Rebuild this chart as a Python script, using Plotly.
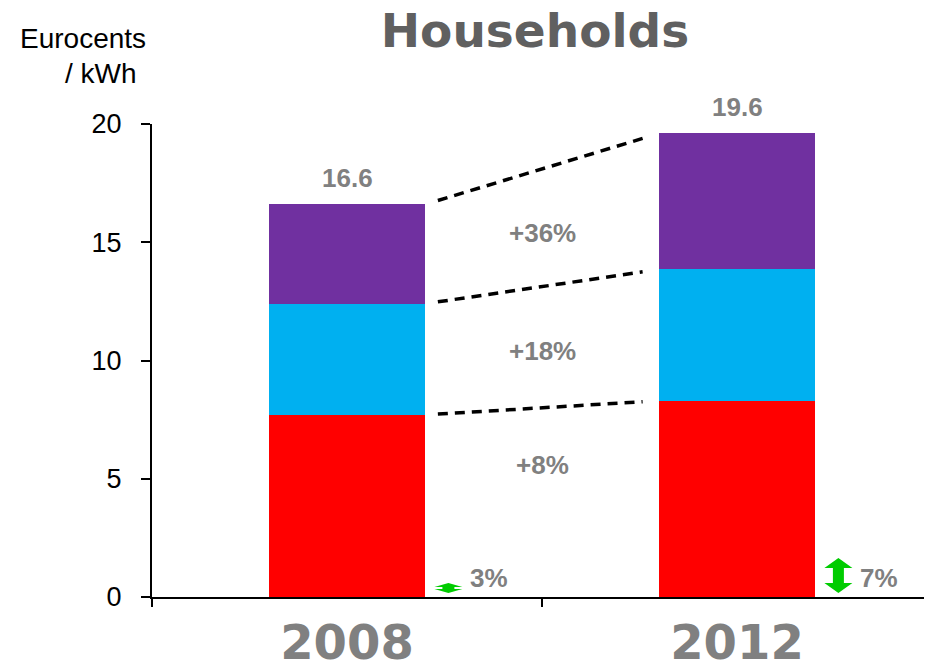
import plotly.graph_objects as go

# ---------------- data ----------------
years = ["2008", "2012"]
energy = [7.7, 8.3]
network = [4.7, 5.55]
taxes = [4.2, 5.75]
change_labels = ["+8%", "+18%", "+36%"]
arrow_labels = ["3%", "7%"]

colors = ["#FF0000", "#00B0F0", "#7030A0"]
series = [energy, network, taxes]

totals = [round(a + b + c, 1) for a, b, c in zip(energy, network, taxes)]

# page body has an 8px default margin -> compensate
OFF = 8
W, H = 932 - OFF, 664 - OFF

fig = go.Figure()
for vals, col in zip(series, colors):
    fig.add_trace(go.Bar(x=years, y=vals, marker=dict(color=col, line=dict(width=0)),
                         width=0.4, showlegend=False, hoverinfo="skip"))

# cumulative tops for connectors
cum = []
run = [0.0, 0.0]
for vals in series:
    run = [run[i] + vals[i] for i in range(2)]
    cum.append(list(run))

shapes = []
x_a, x_b = 0.2, 0.8
g0, g1 = 0.033, 0.042
for tops in cum:
    y0, y1 = tops
    xs, xe = x_a + g0, x_b - g1
    ys = y0 + (y1 - y0) * (xs - x_a) / (x_b - x_a)
    ye = y0 + (y1 - y0) * (xe - x_a) / (x_b - x_a)
    shapes.append(dict(type="line", xref="x", yref="y", x0=xs, x1=xe, y0=ys, y1=ye,
                       line=dict(color="black", width=3.5, dash="10px,7px")))

# green double arrows (pixel-sized, anchored next to each bar)
def darrow(h, hw, sw, hh, base=4):
    b, t = base, base + h
    return (f"M0,{b} L{hw},{b+hh} L{sw},{b+hh} L{sw},{t-hh} L{hw},{t-hh} L0,{t} "
            f"L{-hw},{t-hh} L{-sw},{t-hh} L{-sw},{b+hh} L{-hw},{b+hh} Z")

arrow_paths = [darrow(10, 14, 6, 4), darrow(35, 14, 5.5, 10)]
for i, p in enumerate(arrow_paths):
    shapes.append(dict(type="path", xref="x", yref="y", xsizemode="pixel", ysizemode="pixel",
                       xanchor=i + 0.26, yanchor=0, path=p,
                       fillcolor="#00CC00", line=dict(width=0)))

gray = "#808080"
ann = []
for i, t in enumerate(totals):
    ann.append(dict(x=i, y=t, xref="x", yref="y", text=f"<b>{t:.1f}</b>", showarrow=False,
                    yanchor="middle", yshift=26,
                    font=dict(family="Liberation Sans, Arial", size=26, color=gray)))
label_y = [5.6, 10.4, 15.4]
for lab, yy in zip(change_labels, label_y):
    ann.append(dict(x=0.5, y=yy, xref="x", yref="y", text=f"<b>{lab}</b>", showarrow=False,
                    font=dict(family="Liberation Sans, Arial", size=26, color=gray)))
for i, lab in enumerate(arrow_labels):
    ann.append(dict(x=i + 0.365, y=0, xref="x", yref="y", text=f"<b>{lab}</b>", showarrow=False,
                    yanchor="middle", yshift=19,
                    font=dict(family="Liberation Sans, Arial", size=26, color=gray)))
# y axis title
ann.append(dict(x=0, y=1, xref="paper", yref="paper", text="Eurocents", showarrow=False,
                xanchor="center", yanchor="middle", xshift=-69, yshift=86,
                font=dict(family="Liberation Sans, Arial", size=28, color="black")))
ann.append(dict(x=0, y=1, xref="paper", yref="paper", text="/ kWh", showarrow=False,
                xanchor="center", yanchor="middle", xshift=-51, yshift=51,
                font=dict(family="Liberation Sans, Arial", size=28, color="black")))

fig.update_layout(
    barmode="stack",
    width=W, height=H,
    margin=dict(l=152 - OFF, r=0, t=124 - OFF, b=67, autoexpand=False),
    plot_bgcolor="white", paper_bgcolor="white",
    title=dict(text="Households", xref="container", yref="container",
               x=(535 - OFF) / W, y=1 - (31 - OFF) / H, xanchor="center", yanchor="middle",
               font=dict(family="DejaVu Sans", size=47, color="#606060", weight="bold")),
    shapes=shapes,
    annotations=ann,
    showlegend=False,
)
fig.update_xaxes(type="category", range=[-0.5, 1.5], showline=True, linecolor="black",
                 linewidth=2, ticks="outside", tickson="boundaries", ticklen=8,
                 tickcolor="black", tickwidth=2, showgrid=False, zeroline=False,
                 ticklabelstandoff=2, automargin=False,
                 tickfont=dict(family="DejaVu Sans", size=48, color=gray, weight="bold"))
fig.update_yaxes(range=[0, 20], tickvals=[0, 5, 10, 15, 20], showline=True, linecolor="black",
                 linewidth=2, ticks="outside", ticklen=9, tickcolor="black", tickwidth=2,
                 showgrid=False, zeroline=False, ticklabelstandoff=14, automargin=False,
                 tickfont=dict(family="Liberation Sans, Arial", size=27, color="black"))

fig.write_html("out.html")
